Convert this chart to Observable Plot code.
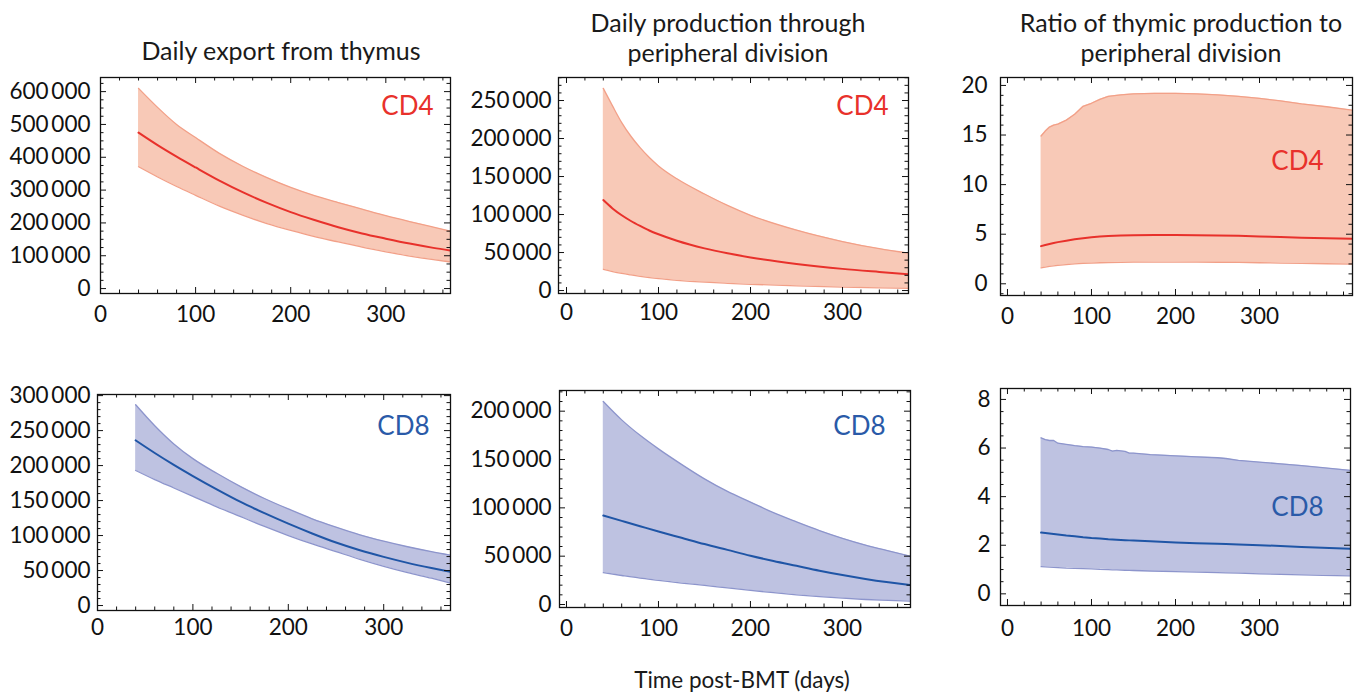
<!DOCTYPE html>
<html><head><meta charset="utf-8">
<script src="https://cdn.jsdelivr.net/npm/d3@7"></script>
<script src="https://cdn.jsdelivr.net/npm/@observablehq/plot@0.6"></script>
<style>
body{margin:0;background:#fff;font-family:Lato,sans-serif;}
#wrap{position:relative;width:1361px;height:694px;overflow:hidden;}
.panel{position:absolute;}
.title{position:absolute;font-family:Lato,sans-serif;font-size:25px;color:#1a1a1a;text-align:center;line-height:30px;white-space:nowrap;transform:translateX(-50%);}
</style></head><body><div id="wrap"></div>
<script>
// ---------- data ----------
const titles = ["Daily export from thymus", "Daily production through\nperipheral division", "Ratio of thymic production to\nperipheral division"];
const xLabel = "Time post-BMT (days)";
const xTicks = [0, 100, 200, 300];

// CD4 daily export from thymus
const cd4ExportT   = [40, 60, 80, 100, 125, 150, 175, 200, 225, 250, 275, 300, 325, 350, 368];
const cd4ExportMid = [475000, 437000, 402000, 369000, 329000, 293000, 261000, 233000, 209000, 187000, 168000, 152000, 137000, 124000, 116000];
const cd4ExportHi  = [610000, 552000, 500000, 460000, 412000, 372000, 338000, 308000, 283000, 262000, 242000, 222000, 204000, 187000, 175000];
const cd4ExportLo  = [371000, 340000, 311000, 284000, 251000, 223000, 198000, 177000, 158000, 142000, 126000, 112000, 99000, 88000, 81000];

// CD4 daily production through peripheral division
const cd4DivT   = [40, 50, 60, 70, 80, 90, 100, 120, 150, 175, 200, 250, 300, 340, 372];
const cd4DivMid = [119000, 108000, 99000, 91500, 85000, 79000, 74000, 65500, 55500, 49000, 43500, 35000, 28500, 24500, 21500];
const cd4DivHi  = [266000, 243000, 221000, 203000, 188000, 175000, 164000, 147000, 127000, 112000, 99000, 79500, 64500, 55000, 49000];
const cd4DivLo  = [28000, 25000, 22500, 20500, 18700, 17100, 15700, 13500, 11000, 9500, 8200, 6200, 4600, 3500, 2800];

// CD4 ratio of thymic production to peripheral division
const cd4RatioT   = [40, 45, 50, 55, 60, 70, 80, 90, 100, 110, 120, 135, 150, 175, 200, 225, 250, 275, 300, 325, 350, 380, 411];
const cd4RatioMid = [3.8, 3.92, 4.02, 4.12, 4.2, 4.35, 4.5, 4.6, 4.7, 4.76, 4.82, 4.87, 4.9, 4.92, 4.92, 4.9, 4.88, 4.84, 4.78, 4.72, 4.65, 4.6, 4.55];
const cd4RatioHi  = [14.9, 15.4, 15.8, 16.0, 16.1, 16.5, 17.1, 17.9, 18.2, 18.6, 18.9, 19.05, 19.15, 19.2, 19.2, 19.15, 19.05, 18.9, 18.7, 18.45, 18.15, 17.85, 17.5];
const cd4RatioLo  = [1.6, 1.68, 1.75, 1.8, 1.85, 1.93, 2.0, 2.05, 2.08, 2.12, 2.14, 2.16, 2.18, 2.19, 2.19, 2.18, 2.17, 2.15, 2.12, 2.09, 2.06, 2.02, 1.98];

// CD8 daily export from thymus
const cd8ExportT   = [40, 60, 80, 100, 125, 150, 175, 200, 225, 250, 275, 300, 325, 350, 370];
const cd8ExportMid = [236000, 218000, 201000, 185000, 166000, 148000, 132000, 117000, 103000, 90000, 79000, 69500, 61000, 53500, 48000];
const cd8ExportHi  = [287000, 257000, 231000, 210000, 189000, 170000, 153000, 138000, 124000, 112000, 101000, 92000, 84000, 77000, 72000];
const cd8ExportLo  = [193000, 180000, 168000, 156000, 141000, 127000, 113000, 100000, 88000, 77000, 66000, 56000, 47000, 39000, 32000];

// CD8 daily production through peripheral division
const cd8DivT   = [40, 60, 80, 100, 125, 150, 175, 200, 225, 250, 275, 300, 325, 350, 374];
const cd8DivMid = [92000, 86500, 81000, 75500, 69000, 62500, 56500, 50500, 45000, 40000, 35000, 30500, 26500, 23000, 20000];
const cd8DivHi  = [210000, 191000, 175000, 161000, 145000, 130000, 117000, 106000, 95000, 85500, 76500, 68500, 61500, 55500, 50000];
const cd8DivLo  = [33000, 30000, 27200, 25000, 22200, 19700, 17100, 14600, 12200, 10000, 8100, 6500, 5200, 4200, 3500];

// CD8 ratio
const cd8RatioT   = [40, 45, 50, 55, 60, 70, 80, 90, 100, 110, 120, 125, 130, 140, 145, 150, 170, 200, 225, 250, 260, 275, 300, 325, 350, 375, 409];
const cd8RatioMid = [2.52, 2.5, 2.48, 2.46, 2.44, 2.4, 2.37, 2.33, 2.3, 2.28, 2.25, 2.24, 2.23, 2.21, 2.2, 2.19, 2.16, 2.11, 2.08, 2.06, 2.05, 2.03, 2.0, 1.97, 1.93, 1.9, 1.85];
const cd8RatioHi  = [6.42, 6.35, 6.31, 6.31, 6.2, 6.15, 6.1, 6.06, 6.04, 6.0, 5.94, 5.87, 5.9, 5.86, 5.79, 5.79, 5.73, 5.68, 5.64, 5.6, 5.57, 5.49, 5.42, 5.35, 5.28, 5.19, 5.08];
const cd8RatioLo  = [1.12, 1.11, 1.1, 1.09, 1.08, 1.06, 1.05, 1.04, 1.03, 1.01, 1.0, 0.99, 0.985, 0.97, 0.965, 0.96, 0.94, 0.91, 0.89, 0.87, 0.86, 0.85, 0.82, 0.8, 0.78, 0.76, 0.74];

const yTicksExport4 = [0, 100000, 200000, 300000, 400000, 500000, 600000];
const yTicksDiv4 = [0, 50000, 100000, 150000, 200000, 250000];
const yTicksRatio4 = [0, 5, 10, 15, 20];
const yTicksExport8 = [0, 50000, 100000, 150000, 200000, 250000, 300000];
const yTicksDiv8 = [0, 50000, 100000, 150000, 200000];
const yTicksRatio8 = [0, 2, 4, 6, 8];

// ---------- styling ----------
const pal = {
  CD4: {fill: "#f8c9b7", edge: "#f2a088", line: "#e8312b", text: "#e8312b"},
  CD8: {fill: "#bec2e1", edge: "#8d95cc", line: "#1f55a6", text: "#2a5aa8"}
};
const fmtThou = d3.formatLocale({decimal: ".", thousands: "\u2009", grouping: [3], currency: ["", ""]}).format(",");

function rows(t, lo, mid, hi) { return t.map((d, i) => ({t: d, lo: lo[i], mid: mid[i], hi: hi[i]})); }

function minors(domain, step, majors) {
  return d3.range(Math.ceil(domain[0] / step) * step, domain[1] + 1e-9, step)
    .filter(v => !majors.some(m => Math.abs(m - v) < 1e-9));
}

const wrap = document.getElementById("wrap");

function panel(c) {
  const fw = c.width - c.ml - c.mr, fh = c.height - c.mt - c.mb;
  const data = rows(c.t, c.lo, c.mid, c.hi);
  const p = pal[c.label];
  const curve = c.curve || "monotone-x";
  const xMin = minors(c.xDomain, 20, xTicks);
  const yMin = minors(c.yDomain, c.yMinor, c.yTicks);
  const xMaj = xTicks.filter(v => v >= c.xDomain[0] && v <= c.xDomain[1]);
  const tk = (arr, len, side) => {
    if (side === "bottom") return Plot.tickX(arr, {x: d => d, insetTop: fh - len, stroke: "#111", strokeWidth: 1});
    if (side === "top") return Plot.tickX(arr, {x: d => d, insetBottom: fh - len, stroke: "#111", strokeWidth: 1});
    if (side === "left") return Plot.tickY(arr, {y: d => d, insetRight: fw - len, stroke: "#111", strokeWidth: 1});
    return Plot.tickY(arr, {y: d => d, insetLeft: fw - len, stroke: "#111", strokeWidth: 1});
  };
  const chart = Plot.plot({
    width: c.width, height: c.height,
    marginLeft: c.ml, marginRight: c.mr, marginTop: c.mt, marginBottom: c.mb,
    style: {fontFamily: "Lato, sans-serif", fontSize: "22.5px", color: "#111", background: "transparent", overflow: "visible"},
    x: {domain: c.xDomain},
    y: {domain: c.yDomain},
    marks: [
      Plot.areaY(data, {x: "t", y1: "lo", y2: "hi", fill: p.fill, curve, clip: true}),
      Plot.lineY(data, {x: "t", y: "hi", stroke: p.edge, strokeWidth: 1.3, curve, clip: true}),
      Plot.lineY(data, {x: "t", y: "lo", stroke: p.edge, strokeWidth: 1.3, curve, clip: true}),
      Plot.lineY(data, {x: "t", y: "mid", stroke: p.line, strokeWidth: 2, curve, clip: true}),
      Plot.text([c.label], {text: d => d, frameAnchor: "top-right", dx: c.ldx, dy: c.ldy, textAnchor: "end", lineAnchor: "middle", fill: p.text, fontSize: 26}),
      tk(xMaj, 6, "bottom"), tk(xMaj, 6, "top"), tk(xMin, 3.5, "bottom"), tk(xMin, 3.5, "top"),
      tk(c.yTicks, 6, "left"), tk(c.yTicks, 6, "right"), tk(yMin, 3.5, "left"), tk(yMin, 3.5, "right"),
      Plot.frame({stroke: "#111", strokeWidth: 1.3}),
      Plot.axisX(xMaj, {tickSize: 0, tickPadding: c.xpad, label: null}),
      Plot.axisY(c.yTicks, {tickSize: 0, tickPadding: c.ypad, label: null, tickFormat: c.fmt || fmtThou})
    ]
  });
  const div = document.createElement("div");
  div.className = "panel";
  div.style.left = c.left + "px";
  div.style.top = c.top + "px";
  div.appendChild(chart);
  wrap.appendChild(div);
}

const fmtPlain = d => String(d);

panel({left: 0, top: 70, width: 460, height: 270, ml: 100, mr: 10, mt: 7, mb: 47,
  xDomain: [0, 368], yDomain: [-15000, 643000], yTicks: yTicksExport4, yMinor: 25000,
  t: cd4ExportT, lo: cd4ExportLo, mid: cd4ExportMid, hi: cd4ExportHi, label: "CD4", ldx: -17, ldy: 29, xpad: 13, ypad: 10});
panel({left: 460, top: 70, width: 460, height: 270, ml: 98, mr: 12, mt: 7, mb: 47,
  xDomain: [-8.7, 371.7], yDomain: [-3900, 280300], yTicks: yTicksDiv4, yMinor: 10000,
  t: cd4DivT, lo: cd4DivLo, mid: cd4DivMid, hi: cd4DivHi, label: "CD4", ldx: -20, ldy: 29, xpad: 11, ypad: 7});
panel({left: 920, top: 70, width: 441, height: 270, ml: 80, mr: 9, mt: 7, mb: 45,
  xDomain: [-8.3, 410.7], yDomain: [-1.18, 20.8], yTicks: yTicksRatio4, yMinor: 1,
  t: cd4RatioT, lo: cd4RatioLo, mid: cd4RatioMid, hi: cd4RatioHi, label: "CD4", ldx: -29, ldy: 84, xpad: 13, ypad: 13, fmt: fmtPlain, curve: "linear"});
panel({left: 0, top: 380, width: 460, height: 270, ml: 97, mr: 10, mt: 14, mb: 40,
  xDomain: [0, 370], yDomain: [-7100, 301600], yTicks: yTicksExport8, yMinor: 10000,
  t: cd8ExportT, lo: cd8ExportLo, mid: cd8ExportMid, hi: cd8ExportHi, label: "CD8", ldx: -21, ldy: 32, xpad: 9, ypad: 7});
panel({left: 460, top: 380, width: 460, height: 270, ml: 99, mr: 10, mt: 10, mb: 43,
  xDomain: [-7.6, 374], yDomain: [-3100, 221400], yTicks: yTicksDiv8, yMinor: 10000,
  t: cd8DivT, lo: cd8DivLo, mid: cd8DivMid, hi: cd8DivHi, label: "CD8", ldx: -25, ldy: 36, xpad: 13, ypad: 8});
panel({left: 920, top: 380, width: 441, height: 270, ml: 80, mr: 11, mt: 8, mb: 45,
  xDomain: [-8.3, 408.3], yDomain: [-0.48, 8.45], yTicks: yTicksRatio8, yMinor: 0.5,
  t: cd8RatioT, lo: cd8RatioLo, mid: cd8RatioMid, hi: cd8RatioHi, label: "CD8", ldx: -27, ldy: 119, xpad: 15, ypad: 10, fmt: fmtPlain, curve: "linear"});

// titles
const titlePos = [{x: 281, top: 35}, {x: 728, top: 7}, {x: 1181, top: 7}];
titles.forEach((t, i) => {
  const d = document.createElement("div");
  d.className = "title";
  d.style.left = titlePos[i].x + "px";
  d.style.top = titlePos[i].top + "px";
  d.innerHTML = t.split("\n").join("<br>");
  wrap.appendChild(d);
});
const xl = document.createElement("div");
xl.className = "title";
xl.style.left = "742px";
xl.style.top = "665px";
xl.style.fontSize = "22.5px";
xl.textContent = xLabel;
wrap.appendChild(xl);
</script></body></html>
